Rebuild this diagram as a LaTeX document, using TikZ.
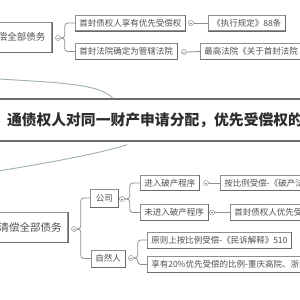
\documentclass[tikz,border=0pt]{standalone}
\usepackage{fontspec}
\newfontfamily\cjk{Noto Sans CJK SC}
\usetikzlibrary{calc}
\definecolor{txt}{HTML}{505050}
\definecolor{txtb}{HTML}{2E2E2E}
\definecolor{bord}{HTML}{909090}
\definecolor{bordd}{HTML}{6A6A6A}
\definecolor{curv}{HTML}{9DB2AE}
\begin{document}
\begin{tikzpicture}[x=1pt,y=-1pt,
  box/.style={draw=bord, line width=0.6pt, fill=white, text=txt,
    font=\cjk\fontsize{8.5}{10}\selectfont, inner xsep=4pt, inner ysep=0pt, minimum height=15.5pt},
  big/.style={box, minimum height=30pt},
  tog/.style={circle, draw=bord, line width=0.5pt, fill=white, minimum size=5pt, inner sep=0pt,
    path picture={\draw[bord,line width=0.5pt] ([xshift=-1.4pt]path picture bounding box.center) -- ([xshift=1.4pt]path picture bounding box.center);}},
  conn/.style={draw=bord, line width=0.8pt, rounded corners=3pt},
  curve/.style={draw=curv, line width=0.9pt}]
\useasboundingbox (0,0) rectangle (300,300);
\clip (0,0) rectangle (300,300);
\fill[white] (0,0) rectangle (300,300);

% top branch
\node[big, anchor=east, minimum width=60pt, font=\cjk\fontsize{9.5}{11}\selectfont] (A) at (52,37) {偿全部债务};
\node[tog] (tA) at (58,38) {};
\node[box, anchor=west] (B1) at (75,23) {首封债权人享有优先受偿权};
\node[box, anchor=west] (B2) at (75,51.5) {首封法院确定为管辖法院};
\node[tog] (tB1) at (191,23) {};
\node[tog] (tB2) at (184,52) {};
\node[box, anchor=west] (C1) at (208,23) {《执行规定》88条};
\node[box, anchor=west] (C2) at (200,51.5) {最高法院《关于首封法院};
\draw[conn] (tA.east) -- ++(4,0) |- (B1.west);
\draw[conn] (tA.east) -- ++(4,0) |- (B2.west);
\draw[conn] (tB1.east) -- (C1.west);
\draw[conn] (tB2.east) -- (C2.west);

% middle
\node[draw=bordd, line width=1.4pt, minimum width=340pt, minimum height=42pt, text=txtb,
  font=\cjk\bfseries\fontsize{14.8}{16}\selectfont] (M) at (155,120) {通债权人对同一财产申请分配，优先受偿权的};
\coordinate (m1) at ($(M.north)+(-42,0)$);
\coordinate (m2) at ($(M.south)+(-28,3)$);
\coordinate (p1) at (-2,79);
\coordinate (p2) at (-2,171);
\draw[curve] (p1) .. controls (70,83) and (100,85) .. (m1);
\draw[curve] (m2) .. controls (105,152) and (60,161) .. (p2);

% bottom branch
\node[big, anchor=east, minimum width=75pt, font=\cjk\fontsize{10.5}{12}\selectfont] (D) at (68,227) {清偿全部债务};
\node[tog] (tD) at (74,229) {};
\node[box, anchor=west, minimum height=18pt, inner xsep=5.5pt] (E1) at (90,198) {公司};
\node[box, anchor=west, minimum height=17pt] (E2) at (91,258.5) {自然人};
\draw[conn] (tD.east) -- ++(4,0) |- (E1.west);
\draw[conn] (tD.east) -- ++(4,0) |- (E2.west);
\node[tog] (tE1) at (122,199) {};
\node[box, anchor=west, minimum height=14.5pt] (F1) at (140,183) {进入破产程序};
\node[box, anchor=west] (F2) at (140,212.5) {未进入破产程序};
\draw[conn] (tE1.east) -- ++(5,0) |- (F1.west);
\draw[conn] (tE1.east) -- ++(5,0) |- (F2.west);
\node[tog] (tF1) at (206,183) {};
\node[tog] (tF2) at (212,212.5) {};
\node[box, anchor=west, minimum height=14.5pt] (G1) at (220,183) {按比例受偿-《破产法》};
\node[box, anchor=west] (G2) at (230,212.5) {首封债权人优先受偿};
\draw[conn] (tF1.east) -- (G1.west);
\draw[conn] (tF2.east) -- (G2.west);
\node[tog] (tE2) at (131,258) {};
\node[box, anchor=west, minimum height=16pt] (H1) at (147,240) {原则上按比例受偿-《民诉解释》510};
\node[box, anchor=west] (H2) at (147,264.5) {享有20\%优先受偿的比例-重庆高院、浙江};
\draw[conn] (tE2.east) -- ++(4,0) |- (H1.west);
\draw[conn] (tE2.east) -- ++(4,0) |- (H2.west);

% darker bottom edges
\foreach \n in {A,B1,B2,C1,C2,D,E1,E2,F1,F2,G1,G2,H1,H2}
  \draw[bordd, line width=1pt] (\n.south west) -- (\n.south east) -- (\n.north east);
\end{tikzpicture}
\end{document}
